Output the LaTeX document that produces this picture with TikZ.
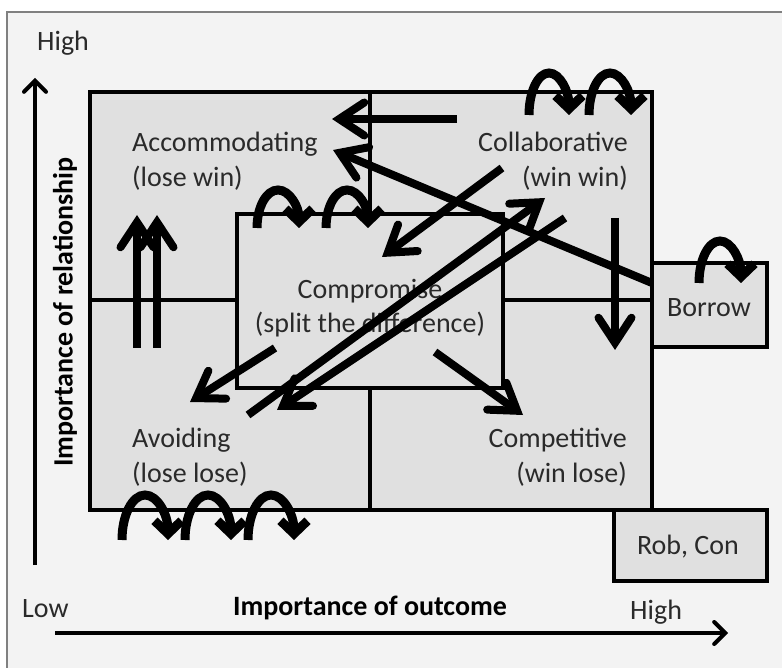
\documentclass[tikz,border=0pt]{standalone}
\usepackage{fontspec}
\setmainfont{Carlito}
\usetikzlibrary{arrows.meta}
\definecolor{framebg}{HTML}{F3F3F3}
\definecolor{cellbg}{HTML}{E0E0E0}
\definecolor{framegray}{HTML}{808080}
\definecolor{txt}{HTML}{2A2A2A}
\begin{document}
\begin{tikzpicture}[x=1pt,y=-1pt,
  lbl/.style={inner sep=0pt, text=txt, font=\fontsize{28}{34}\selectfont},
  axlbl/.style={inner sep=0pt, text=black, font=\bfseries\fontsize{28}{34}\selectfont},
  cell/.style={fill=cellbg, draw=black, line width=3.5pt},
  sep/.style={draw=black, line width=3.5pt},
  bigarrow/.style={draw=black, line width=8pt, -{Straight Barb[length=25pt,width=33pt,line cap=round,line join=miter]}},
  arcarrow/.style={draw=black, line width=9pt, -{Straight Barb[length=13pt,width=27pt,line cap=butt,line join=miter]}},
  axarrow/.style={draw=black, line width=4pt, -{Straight Barb[length=11pt,width=22pt,line cap=round]}},
]
\useasboundingbox (0,0) rectangle (782,668);
\clip (0,0) rectangle (782,668);
\fill[white] (0,0) rectangle (782,668);
\draw[fill=framebg, draw=framegray, line width=1.5pt] (7,12) rectangle (800,700);

% grid
\draw[cell] (90,92) rectangle (652,510);
\draw[sep] (370,92) -- (370,214);
\draw[sep] (370,388) -- (370,510);
\draw[sep] (90,300) -- (237,300);
\draw[sep] (503,300) -- (652,300);
\draw[cell] (237,214) rectangle (503,388);
\draw[cell] (652,263) rectangle (767,347);
\draw[cell] (614,510) rectangle (767,581);

% labels
\node[lbl, anchor=base west] (acc1) at (132,152) {Accommodating};
\node[lbl, anchor=base west] (acc2) at (132,187) {(lose win)};
\node[lbl, anchor=base east] (col1) at (628,152) {Collaborative};
\node[lbl, anchor=base east] (col2) at (628,187) {(win win)};
\node[lbl, anchor=base] (com1) at (370,299) {Compromise};
\node[lbl, anchor=base] (com2) at (370,333) {(split the difference)};
\node[lbl, anchor=base west] (avo1) at (132,447) {Avoiding};
\node[lbl, anchor=base west] (avo2) at (132,482) {(lose lose)};
\node[lbl, anchor=base east] (cmp1) at (627,447) {Competitive};
\node[lbl, anchor=base east] (cmp2) at (627,482) {(win lose)};
\node[lbl, anchor=base] (bor) at (709,317) {Borrow};
\node[lbl, anchor=base] (rob) at (688,554) {Rob, Con};

% axes
\node[lbl, anchor=base west] (hightop) at (37,51) {High};
\node[axlbl, rotate=90] (rel) at (65,312) {Importance of relationship};
\node[lbl, anchor=base west] (low) at (22,617) {Low};
\node[axlbl, anchor=base] (out) at (370,615) {Importance of outcome};
\node[lbl, anchor=base west] (highbot) at (630,619) {High};
\draw[axarrow] (35,565) -- (35,78);
\draw[axarrow] (55,633) -- (728,633);

% straight arrows
\draw[bigarrow] (457,119) -- (332,119);
\draw[bigarrow] (652,283) -- (333,150);
\draw[bigarrow] (502,168) -- (382,257);
\draw[bigarrow] (248,415) -- (545,198);
\draw[bigarrow] (565,218) -- (277,410);
\draw[bigarrow] (275,348) -- (190,402);
\draw[bigarrow] (435,352) -- (523,415);
\draw[bigarrow] (615,218) -- (615,350);
\draw[bigarrow] (137,348) -- (137,215);
\draw[bigarrow] (157,348) -- (157,215);

% arcs
\draw[arcarrow] (529,115) arc[start angle=180, end angle=360, x radius=20, y radius=42];
\draw[arcarrow] (589,115) arc[start angle=180, end angle=360, x radius=21, y radius=42];
\draw[arcarrow] (257,228) arc[start angle=180, end angle=360, x radius=21, y radius=38];
\draw[arcarrow] (326,228) arc[start angle=180, end angle=360, x radius=21, y radius=38];
\draw[arcarrow] (122,540) arc[start angle=180, end angle=360, x radius=23, y radius=45];
\draw[arcarrow] (185,540) arc[start angle=180, end angle=360, x radius=23, y radius=45];
\draw[arcarrow] (248,540) arc[start angle=180, end angle=360, x radius=23, y radius=45];
\draw[arcarrow] (699,283) arc[start angle=180, end angle=360, x radius=21, y radius=42];
\end{tikzpicture}
\end{document}
